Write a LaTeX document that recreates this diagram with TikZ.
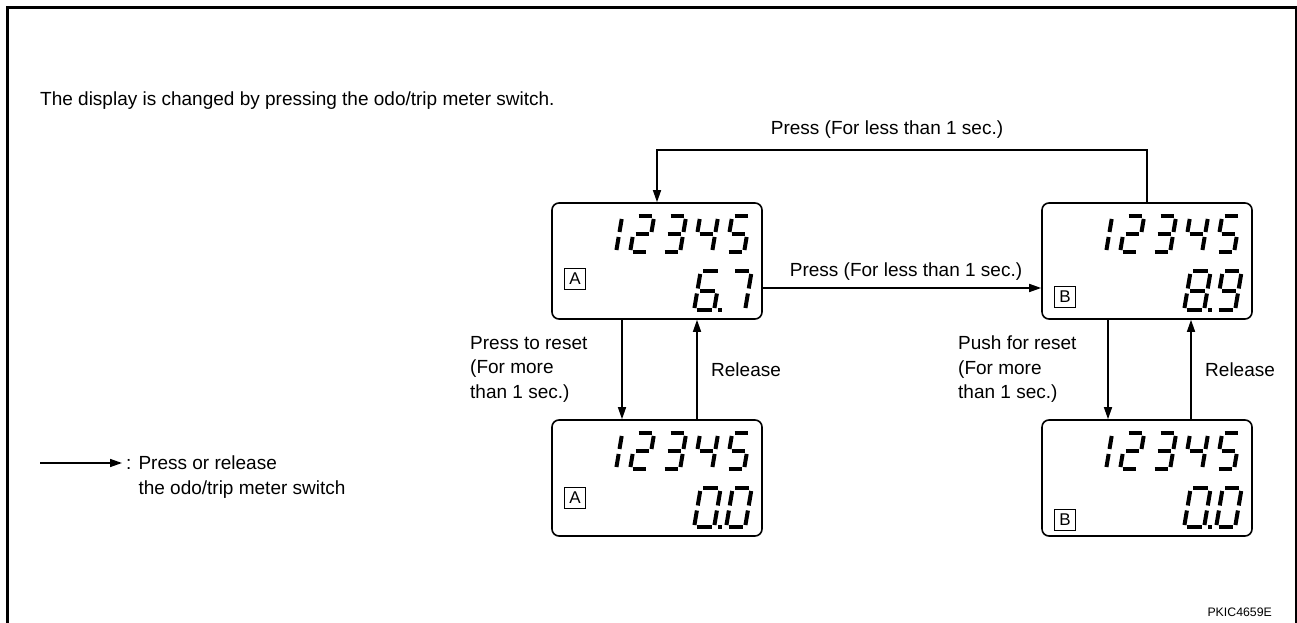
\documentclass[tikz,border=0pt]{standalone}
\usepackage{fontspec}
\setmainfont{Liberation Sans}
\usetikzlibrary{arrows.meta}
% segment lists of the seven-segment digits
\def\lcdone{b,c}
\def\lcdtwo{a,b,g,e,d}
\def\lcdthree{a,b,g,c,d}
\def\lcdfour{f,g,b,c}
\def\lcdfive{a,f,g,c,d}
\def\lcdsix{a,f,g,e,d,c}
\def\lcdseven{a,b,c}
\def\lcdeight{a,b,c,d,e,f,g}
\def\lcdnine{a,b,c,d,f,g}
\def\lcdzero{a,b,c,d,e,f}
% the seven segments of a digit \dw wide and \dh high
\def\sega{(2.5,\dh) -- (\dw-2.5,\dh)}
\def\segb{(\dw,\dh-2.5) -- (\dw,\dh/2+2.5)}
\def\segc{(\dw,\dh/2-2.5) -- (\dw,2.5)}
\def\segd{(2.5,0) -- (\dw-2.5,0)}
\def\sege{(0,2.5) -- (0,\dh/2-2.5)}
\def\segf{(0,\dh/2+2.5) -- (0,\dh-2.5)}
\def\segg{(2.5,\dh/2) -- (\dw-2.5,\dh/2)}
\newcommand{\lcddigit}[5]{%
  \begin{scope}[shift={(#1,#2)},xslant=0.17]
    \def\dw{#3}\def\dh{#4}
    \edef\seglist{#5}
    \foreach \s in \seglist {\draw[lcdseg] \csname seg\s\endcsname;}
  \end{scope}}
% one display: name, centre x, centre y, letter, letter y, two digits
\newcommand{\lcdpanel}[7]{%
  \node[lcd] (#1) at (#2,#3) {};
  \begin{scope}[shift={(#2,#3)}]
    \foreach \n/\px in {one/-59,two/-27,three/5,four/37,five/69}
      {\lcddigit{\px}{8.5}{18}{36}{\csname lcd\n\endcsname}}
    \node[tag] (#1tag) at (-82,#5) {#4};
    \lcddigit{37}{-49.5}{20}{39}{\csname lcd#6\endcsname}
    \fill (61,-51.5) rectangle (65,-47.5);
    \lcddigit{69}{-49.5}{19}{39}{\csname lcd#7\endcsname}
  \end{scope}}
\tikzset{
  lcd/.style={draw,line width=1.6pt,rounded corners=7pt,minimum width=210pt,minimum height=116pt,inner sep=0pt},
  lcdseg/.style={line width=4pt},
  tag/.style={draw,line width=1.5pt,minimum size=21pt,inner sep=0pt,font=\fontsize{17}{17}\selectfont},
  flow/.style={line width=1.5pt,-{Triangle[length=12pt,width=8pt]}},
  lbl/.style={inner sep=0pt,font=\fontsize{19}{24.5}\selectfont}
}
\begin{document}
\begin{tikzpicture}[x=1pt,y=1pt]
  \useasboundingbox (0,0) rectangle (1297,623);
  % frame
  \draw[line width=3pt] (7.5,0) -- (7.5,615.8) -- (1297,615.8);
  \draw[line width=2pt] (1296,0) -- (1296,615.8);

  \node[lbl,anchor=base west] (title) at (40,517) {The display is changed by pressing the odo/trip meter switch.};

  % displays
  \lcdpanel{A1}{657}{362}{A}{-18}{six}{seven}
  \lcdpanel{B1}{1147}{362}{B}{-36}{eight}{nine}
  \lcdpanel{A2}{657}{145}{A}{-20}{zero}{zero}
  \lcdpanel{B2}{1147}{145}{B}{-42}{zero}{zero}

  % switching
  \draw[flow] (B1.north) -- ++(0,52) -| (A1.north);
  \node[lbl,anchor=base] (backlbl) at (887,488) {Press (For less than 1 sec.)};
  \draw[flow] ([yshift=-27pt]A1.east) -- ([yshift=-27pt]B1.west);
  \node[lbl,anchor=base] (nextlbl) at (906,346) {Press (For less than 1 sec.)};

  \draw[flow] ([xshift=-35pt]A1.south) -- ([xshift=-35pt]A2.north);
  \draw[flow] ([xshift=40pt]A2.north) -- ([xshift=40pt]A1.south);
  \draw[flow] ([xshift=-39pt]B1.south) -- ([xshift=-39pt]B2.north);
  \draw[flow] ([xshift=44pt]B2.north) -- ([xshift=44pt]B1.south);
  \node[lbl,anchor=north west,align=left] (resetA) at (470,287) {Press to reset\\(For more\\than 1 sec.)};
  \node[lbl,anchor=base west] (releaseA) at (711,246) {Release};
  \node[lbl,anchor=north west,align=left] (resetB) at (958,287) {Push for reset\\(For more\\than 1 sec.)};
  \node[lbl,anchor=base west] (releaseB) at (1205,246) {Release};

  % legend
  \coordinate (legS) at (40,160);
  \coordinate (legE) at (122,160);
  \draw[flow] (legS) -- (legE);
  \node[lbl,anchor=north west,align=left] (legend) at (126,167) {: Press or release\\\hphantom{: }the odo/trip meter switch};

  \node[lbl,anchor=base east,font=\fontsize{12.3}{14}\selectfont] (code) at (1272,6) {PKIC4659E};
\end{tikzpicture}
\end{document}
